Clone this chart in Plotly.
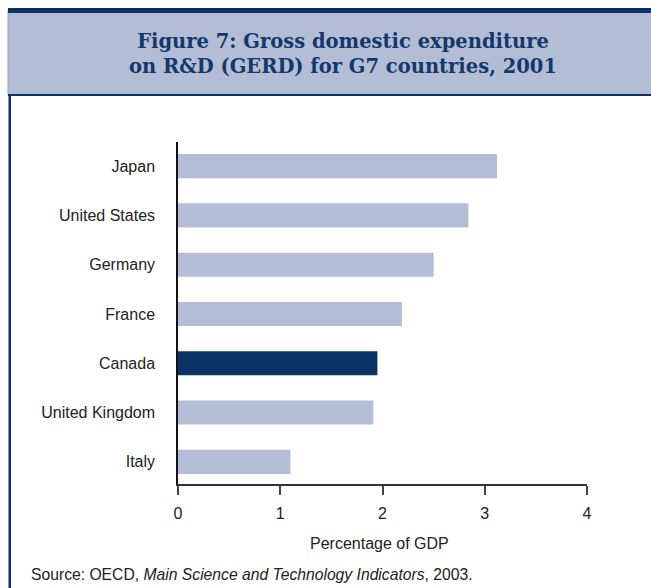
import plotly.graph_objects as go

countries = ["Italy", "United Kingdom", "Canada", "France", "Germany", "United States", "Japan"]
gerd_pct = [1.10, 1.91, 1.95, 2.19, 2.50, 2.84, 3.12]
highlight = "Canada"
x_ticks = [0, 1, 2, 3, 4]

W, H = 651, 588
LIGHT = "#B3BDD6"
NAVY = "#0B3366"

def px(x):
    return x / W

def py(y):
    return 1 - y / H

colors = [NAVY if c == highlight else LIGHT for c in countries]

fig = go.Figure(go.Bar(
    x=gerd_pct, y=countries, orientation="h",
    marker=dict(color=colors, line=dict(width=0)),
    width=0.49, hoverinfo="x+y",
))

shapes = [
    dict(type="rect", xref="paper", yref="paper", x0=px(8), x1=px(700), y0=py(95), y1=py(10),
         fillcolor=LIGHT, line=dict(width=1, color="#9AA4BC"), layer="below"),
    dict(type="rect", xref="paper", yref="paper", x0=px(8), x1=px(700), y0=py(13), y1=py(8),
         fillcolor=NAVY, line=dict(width=0)),
    dict(type="rect", xref="paper", yref="paper", x0=px(8), x1=px(700), y0=py(96), y1=py(94),
         fillcolor=NAVY, line=dict(width=0)),
    dict(type="rect", xref="paper", yref="paper", x0=px(8.5), x1=px(11), y0=py(700), y1=py(95),
         fillcolor=NAVY, line=dict(width=0)),
]

annotations = [
    dict(text="Figure 7: Gross domestic expenditure<br>on R&amp;D (GERD) for G7 countries, 2001",
         xref="paper", yref="paper", x=px(343), y=py(54), xanchor="center", yanchor="middle",
         showarrow=False, align="center",
         font=dict(family="DejaVu Serif", size=19.5, color="#14386B", weight="bold")),
    dict(text="Percentage of GDP", xref="paper", yref="paper", x=px(379), y=py(543),
         xanchor="center", yanchor="middle", showarrow=False,
         font=dict(family="Liberation Sans, Arial", size=16, color="#222222")),
    dict(text="Source: OECD, <i>Main Science and Technology Indicators</i>, 2003.",
         xref="paper", yref="paper", x=px(29), y=py(574), xanchor="left", yanchor="middle",
         showarrow=False, font=dict(family="Liberation Sans, Arial", size=15.7, color="#222222")),
]

fig.update_layout(
    width=W, height=H,
    margin=dict(l=0, r=0, t=0, b=0),
    paper_bgcolor="white", plot_bgcolor="white",
    showlegend=False,
    shapes=shapes, annotations=annotations,
    font=dict(family="Liberation Sans, Arial", size=16, color="#222222"),
    xaxis=dict(
        domain=[px(178), px(587)], range=[0, 4], tickvals=x_ticks,
        showgrid=False, zeroline=False, automargin=False,
        showline=True, linecolor="#333333", linewidth=1.5,
        ticks="outside", ticklen=9, tickwidth=1.5, tickcolor="#444444",
        ticklabelstandoff=5,
        tickfont=dict(size=16, color="#222222"),
    ),
    yaxis=dict(
        domain=[py(484), py(142)], range=[-0.45, 6.49],
        categoryorder="array", categoryarray=countries,
        showgrid=False, zeroline=False, automargin=False,
        showline=True, linecolor="#111111", linewidth=1.5,
        ticks="", ticklabelstandoff=18,
        tickfont=dict(size=16, color="#222222"),
    ),
)

fig.write_html(
    "out.html",
    config={"displayModeBar": False},
    post_script="document.body.style.margin='0';document.body.style.overflow='hidden';",
)
